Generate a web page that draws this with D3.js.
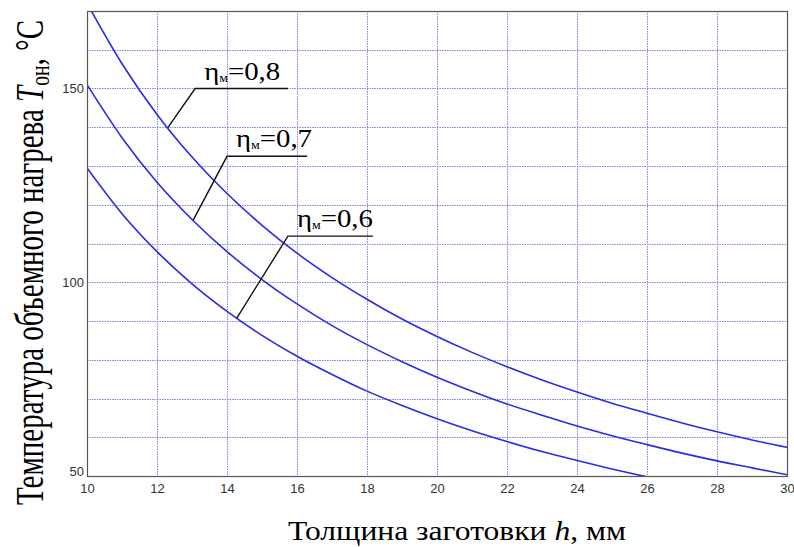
<!DOCTYPE html>
<html lang="ru">
<head>
<meta charset="utf-8" />
<script src="https://cdnjs.cloudflare.com/ajax/libs/d3/7.8.5/d3.min.js"></script>
<style>
    body { margin: 0; background: #fff; }
    .tick-label { font-family: "Liberation Sans", Arial, sans-serif; font-size: 13px; fill: #333; }
    .serif { font-family: "Liberation Serif", "Times New Roman", serif; fill: #000; }
</style>
</head>
<body>
<div id="chart"></div>
<script>
// thickness h, mm
var h = [10, 11, 12, 13, 14, 15, 16, 17, 18, 19, 20, 21, 22, 23, 24, 25, 26, 27, 28, 29, 30];
// heating temperature
var t08 = [172.0, 156.4, 143.3, 132.3, 122.9, 114.7, 107.5, 101.2, 95.6, 90.5, 86.0, 81.9, 78.2, 74.8, 71.7, 68.8, 66.2, 63.7, 61.4, 59.3, 57.4];
var t07 = [151.0, 137.3, 125.8, 116.2, 107.9, 100.7, 94.4, 88.8, 83.9, 79.5, 75.5, 71.9, 68.6, 65.7, 62.9, 60.4, 58.1, 55.9, 53.9, 52.1, 50.3];
var t06 = [129.5, 117.7, 107.9, 99.6, 92.5, 86.3, 80.9, 76.2, 71.9, 68.2, 64.8, 61.7, 58.9, 56.3, 54.0, 51.8, 49.8, 48.0, 46.3, 44.7, 43.2];

var seriesNames = ["0,8", "0,7", "0,6"];
var seriesValues = [t08, t07, t06];

var xTicks = [10, 12, 14, 16, 18, 20, 22, 24, 26, 28, 30];
var yTicks = [50, 100, 150];
var yGrid = [60, 70, 80, 90, 100, 110, 120, 130, 140, 150, 160];

// leader lines: point on curve (h), elbow (h, T), end of underline (h)
var leaderAt = [12.31, 13.03, 14.28];
var elbowH = [13.09, 14.0, 15.74];
var elbowT = [150.0, 132.5, 111.9];
var lineEndH = [15.74, 16.29, 18.17];

var width = 794, height = 547;
var margin = { left: 87, right: 7, top: 11, bottom: 71 };

var svg = d3.select("#chart").append("svg")
    .attr("width", width)
    .attr("height", height);

var x = d3.scaleLinear().domain([10, 30]).range([margin.left, width - margin.right]);
var y = d3.scaleLinear().domain([50, 170]).range([height - margin.bottom, margin.top]);

svg.append("defs").append("clipPath").attr("id", "plot")
    .append("rect")
    .attr("x", x(10)).attr("y", y(170))
    .attr("width", x(30) - x(10)).attr("height", y(50) - y(170));

// grid
var grid = svg.append("g")
    .attr("stroke", "#6262f0")
    .attr("stroke-width", 1)
    .attr("stroke-dasharray", "1.5,1")
    .attr("opacity", 0.8);

grid.selectAll("line.v")
    .data(xTicks.slice(1, -1))
    .enter().append("line")
    .attr("x1", function (d) { return Math.round(x(d)) + 0.5; })
    .attr("x2", function (d) { return Math.round(x(d)) + 0.5; })
    .attr("y1", y(170)).attr("y2", y(50));

grid.selectAll("line.h")
    .data(yGrid)
    .enter().append("line")
    .attr("y1", function (d) { return Math.round(y(d)) + 0.5; })
    .attr("y2", function (d) { return Math.round(y(d)) + 0.5; })
    .attr("x1", x(10)).attr("x2", x(30));

// curves
var line = d3.line()
    .x(function (d, i) { return x(h[i]); })
    .y(function (d) { return y(d); })
    .curve(d3.curveMonotoneX);

svg.append("g").attr("clip-path", "url(#plot)")
    .selectAll("path")
    .data(seriesValues)
    .enter().append("path")
    .attr("d", line)
    .attr("fill", "none")
    .attr("stroke", "#2b2be6")
    .attr("stroke-width", 1.6);

// frame
svg.append("rect")
    .attr("x", x(10) + 0.5).attr("y", y(170) + 0.5)
    .attr("width", x(30) - x(10)).attr("height", y(50) - y(170))
    .attr("fill", "none")
    .attr("stroke", "#555")
    .attr("stroke-width", 1.2);

// axes
var xAxis = svg.append("g")
    .attr("transform", "translate(0," + y(50) + ")")
    .call(d3.axisBottom(x).tickValues(xTicks).tickSize(0).tickPadding(8));
xAxis.select(".domain").remove();
xAxis.selectAll("text").attr("class", "tick-label").attr("fill", null);

var yAxis = svg.append("g")
    .attr("transform", "translate(" + x(10) + ",0)")
    .call(d3.axisLeft(y).tickValues(yTicks).tickSize(0).tickPadding(3));
yAxis.select(".domain").remove();
yAxis.selectAll("text").attr("class", "tick-label").attr("fill", null);
yAxis.selectAll(".tick").filter(function (d) { return d === 50; })
    .select("text").attr("dy", "-0.05em");

// annotations
var ann = svg.append("g");
seriesNames.forEach(function (name, i) {
    var vals = seriesValues[i];
    var j = Math.floor(leaderAt[i]) - 10;
    var f = leaderAt[i] - Math.floor(leaderAt[i]);
    var tOn = vals[j] + (vals[j + 1] - vals[j]) * f;
    var ex = x(elbowH[i]), ey = y(elbowT[i]);

    ann.append("path")
        .attr("d", "M" + x(leaderAt[i]) + "," + y(tOn) + "L" + ex + "," + ey + "L" + x(lineEndH[i]) + "," + ey)
        .attr("fill", "none")
        .attr("stroke", "#111")
        .attr("stroke-width", 1.4);

    var t = ann.append("text")
        .attr("class", "serif")
        .attr("font-family", "Liberation Serif, serif")
        .attr("x", ex + 9)
        .attr("y", ey - 9)
        .attr("font-size", 25)
        .attr("textLength", 76)
        .attr("lengthAdjust", "spacingAndGlyphs");
    t.append("tspan").text("η");
    t.append("tspan").attr("font-size", 12).attr("dy", 2).text("м");
    t.append("tspan").attr("dy", -2).text("=" + name);
});

// axis titles (the source image is stretched sideways)
var xt = svg.append("text")
    .attr("class", "serif")
    .attr("x", 288)
    .attr("y", 540)
    .attr("font-size", 27)
    .attr("textLength", 338)
    .attr("lengthAdjust", "spacingAndGlyphs");
xt.append("tspan").text("Толщина заготовки ");
xt.append("tspan").attr("font-style", "italic").text("h");
xt.append("tspan").text(", мм");

var yt = svg.append("text")
    .attr("class", "serif")
    .attr("transform", "translate(43,505) scale(1.4,1) rotate(-90)")
    .attr("font-size", 28)
    .attr("textLength", 485)
    .attr("lengthAdjust", "spacingAndGlyphs");
yt.append("tspan").text("Температура объемного нагрева ");
yt.append("tspan").attr("font-style", "italic").text("T");
yt.append("tspan").attr("font-size", 19).attr("dy", 4).text("он");
yt.append("tspan").attr("dy", -4).text(", °C");
</script>
</body>
</html>
